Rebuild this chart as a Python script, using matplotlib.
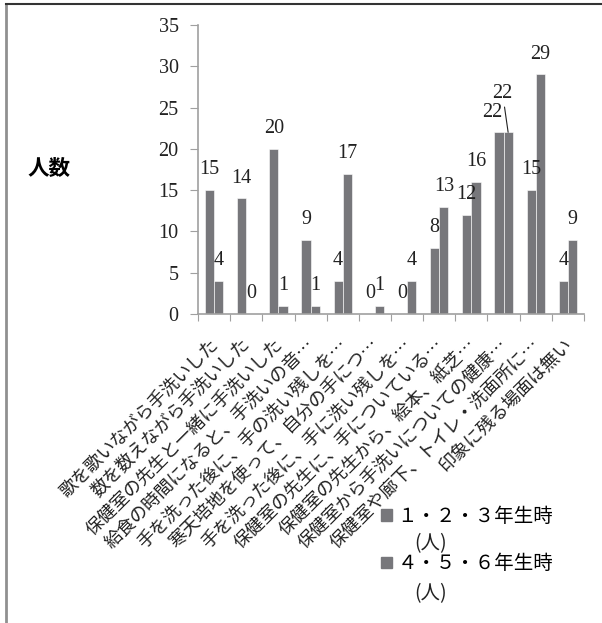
import numpy as np
import matplotlib.pyplot as plt
from matplotlib.lines import Line2D
from matplotlib.patches import Patch

plt.rcParams['font.family'] = ['Liberation Serif', 'Noto Sans CJK JP', 'DejaVu Sans']
jp = ["Noto Sans CJK JP", "DejaVu Sans"]

categories = [
    "歌を歌いながら手洗いした",
    "数を数えながら手洗いした",
    "保健室の先生と一緒に手洗いした",
    "給食の時間になると、手洗いの音…",
    "手を洗った後に、手の洗い残しを…",
    "寒天培地を使って、自分の手につ…",
    "手を洗った後に、手に洗い残しを…",
    "保健室の先生に、手についている…",
    "保健室の先生から、絵本、紙芝…",
    "保健室から手洗いについての健康…",
    "保健室や廊下、トイレ・洗面所に…",
    "印象に残る場面は無い",
]
grade_123 = [15, 14, 20, 9, 4, 0, 0, 8, 12, 22, 15, 4]
grade_456 = [4, 0, 1, 1, 17, 1, 4, 13, 16, 22, 29, 9]
series_names = ["１・２・３年生時", "４・５・６年生時"]
unit_label = "(人)"
yticks = [0, 5, 10, 15, 20, 25, 30, 35]

bar_color = "#77777b"
axis_color = "#a0a0a0"

fig = plt.figure(figsize=(6.02, 6.23), dpi=100)
ax = fig.add_axes([0.329, 0.496, 0.641, 0.464])

x = np.arange(len(categories))
w = 0.285
b1 = ax.bar(x - w / 2, grade_123, w, color=bar_color, edgecolor="white", linewidth=0.4)
b2 = ax.bar(x + w / 2, grade_456, w, color=bar_color, edgecolor="white", linewidth=0.4)

ax.set_xlim(-0.5, len(categories) - 0.5)
ax.set_ylim(0, 35)
ax.set_yticks(yticks)
ax.tick_params(axis="y", labelsize=14.5, length=6, color=axis_color, pad=8,
               labelcolor="#222222")

# category boundaries as ticks, labels at centers
ax.set_xticks(np.arange(len(categories) + 1) - 0.5)
ax.set_xticklabels([])
ax.tick_params(axis="x", length=5, color=axis_color)
for i, lab in enumerate(categories):
    ax.annotate(lab, xy=(i, 0), xycoords=("data", "axes fraction"),
                xytext=(1, -20), textcoords="offset points",
                rotation=45, rotation_mode="anchor", ha="right", va="center",
                fontsize=13, family=jp, color="#222222")

for s in ["top", "right"]:
    ax.spines[s].set_visible(False)
for s in ["left", "bottom"]:
    ax.spines[s].set_color(axis_color)
    ax.spines[s].set_linewidth(1.2)

# data labels
for k, (bars, vals) in enumerate([(b1, grade_123), (b2, grade_456)]):
    for j, (r, v) in enumerate(zip(bars, vals)):
        cx = r.get_x() + r.get_width() / 2
        if k == 1 and j == 9:
            ax.annotate(str(v), xy=(cx, v), xytext=(-4, 28), textcoords="offset points",
                        ha="center", va="center", fontsize=14.5, color="#222222",
                        arrowprops=dict(arrowstyle="-", color="#222222", lw=0.8,
                                        shrinkA=1, shrinkB=0))
            continue
        dx = -4.5 if (k == 0 and j == 9) else 0
        ax.annotate(str(v), xy=(cx, v), xytext=(dx, 14.5), textcoords="offset points",
                    ha="center", va="center", fontsize=14.5, color="#222222")

fig.text(0.082, 0.729, "人数", fontsize=15.5, fontweight="bold",
         family=jp, ha="center", va="center")

handles = [Patch(color=bar_color), Patch(color=bar_color)]
fig.legend(handles, series_names, loc="upper left",
           bbox_to_anchor=(381 / 602, 1 - 506 / 623),
           frameon=False, prop={"family": jp, "size": 14},
           handlelength=0.55, handleheight=0.55, handletextpad=0.3,
           labelspacing=1.35, borderpad=0, borderaxespad=0)
for yy in [544, 594]:
    fig.text(431 / 602, 1 - yy / 623, unit_label, fontsize=14, family=jp,
             ha="center", va="center", color="#222222")

# outer frame
fig.add_artist(Line2D([0.01, 0.01], [0.0, 0.994], color="#909090", lw=2))
fig.add_artist(Line2D([0.01, 1.0], [0.994, 0.994], color="#333333", lw=1.5))

fig.savefig("out.png", dpi=100)
